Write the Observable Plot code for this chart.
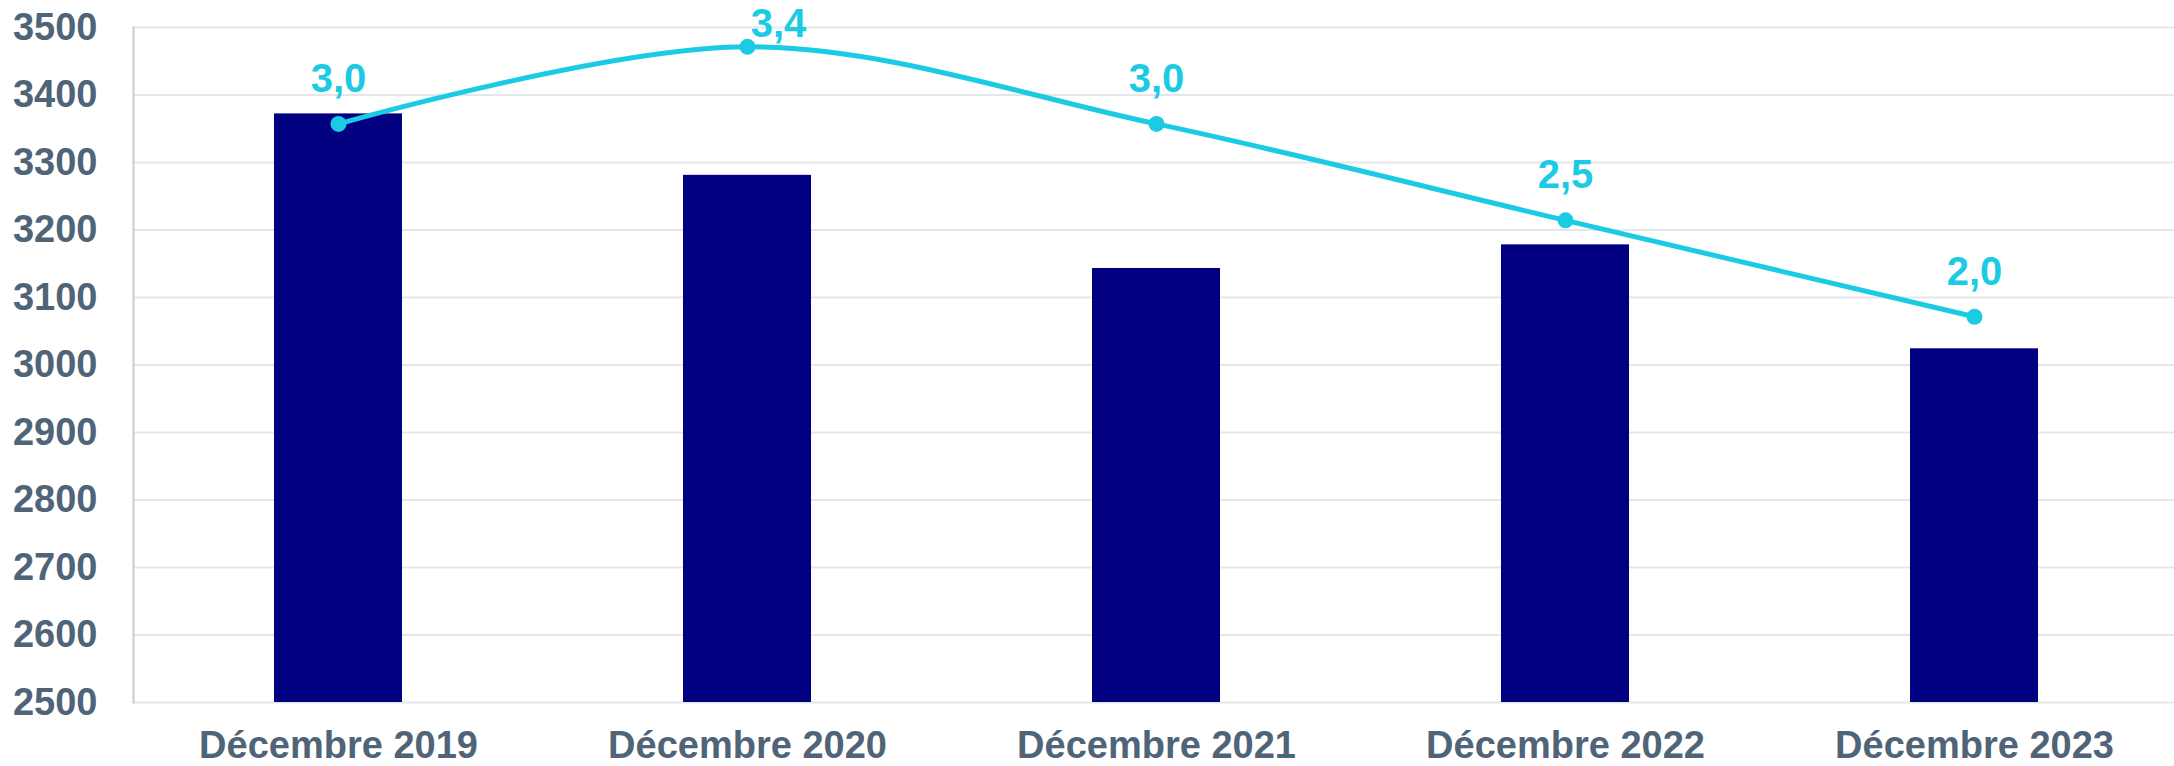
<!DOCTYPE html>
<html><head><meta charset="utf-8">
<script src="https://cdn.jsdelivr.net/npm/d3@7"></script>
<script src="https://cdn.jsdelivr.net/npm/@observablehq/plot@0.6"></script>
<style>
html,body{margin:0;padding:0;background:#fff;overflow:hidden}
svg{display:block}
</style>
</head><body><div id="chart"></div>
<script>
const categories = ["Décembre 2019","Décembre 2020","Décembre 2021","Décembre 2022","Décembre 2023"];
const barValues = [3372, 3281, 3143, 3178, 3024];
const lineValues = [3.0, 3.4, 3.0, 2.5, 2.0];
const lineLabels = ["3,0","3,4","3,0","2,5","2,0"];
const yTicks = [2500,2600,2700,2800,2900,3000,3100,3200,3300,3400,3500];

const Y_MIN = 2500, Y_MAX = 3500, SEC_MAX = 3.5;
const toPrimary = v => Y_MIN + v / SEC_MAX * (Y_MAX - Y_MIN);
const data = categories.map((c, i) => ({cat: c, bar: barValues[i], rate: lineValues[i], label: lineLabels[i], ys: toPrimary(lineValues[i])}));

const FONT = "'Liberation Sans', Arial, sans-serif";
const CYAN = "#1ACBE3";
const chart = Plot.plot({
  width: 2174,
  height: 766,
  marginTop: 27,
  marginBottom: 64,
  marginLeft: 133,
  marginRight: 0,
  style: {fontFamily: FONT, fontWeight: "bold", color: "#506478", background: "#fff"},
  x: {type: "band", domain: categories, range: [133, 2179], paddingInner: 0.687, paddingOuter: 0.3435, label: null},
  y: {domain: [Y_MIN, Y_MAX], label: null},
  marks: [
    Plot.ruleY(yTicks, {stroke: "#E3E7EC", strokeWidth: 2}),
    Plot.frame({anchor: "left", stroke: "#CCCCCC", strokeWidth: 2}),
    Plot.barY(data, {x: "cat", y1: Y_MIN, y2: "bar", fill: "#000080"}),
    Plot.line(data, {x: "cat", y: "ys", curve: "catmull-rom", stroke: CYAN, strokeWidth: 5}),
    Plot.dot(data, {x: "cat", y: "ys", r: 8, fill: CYAN}),
    Plot.text(data, {filter: (d, i) => i !== 1, x: "cat", y: "ys", text: "label", dy: -45, fill: CYAN, fontSize: 40, fontWeight: "bold"}),
    Plot.text(data, {filter: (d, i) => i === 1, x: "cat", y: "ys", text: "label", dx: 31, dy: -23, fill: CYAN, fontSize: 40, fontWeight: "bold"}),
    Plot.axisY({ticks: yTicks, tickSize: 0, tickPadding: 36, fontSize: 38, tickFormat: d => String(d), label: null}),
    Plot.axisX({tickSize: 0, tickPadding: 29, fontSize: 38, label: null})
  ]
});
document.getElementById("chart").appendChild(chart);
</script>
</body></html>
